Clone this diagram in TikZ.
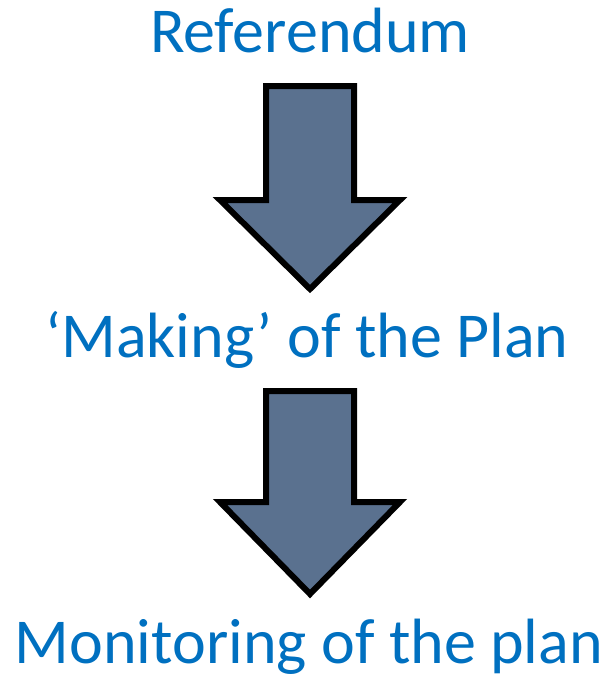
\documentclass[tikz,border=0pt]{standalone}
\usepackage{fontspec}
\setmainfont{Carlito}
\usetikzlibrary{calc}
\definecolor{planblue}{RGB}{0,112,192}
\definecolor{arrowslate}{RGB}{90,113,143}
\tikzset{stage/.style={text=planblue,font=\fontsize{64}{64}\selectfont,inner sep=0pt,anchor=base},
  blockarrow/.style={fill=arrowslate,draw=black,line width=6pt,line join=miter}}

\begin{document}
\begin{tikzpicture}[x=1pt,y=-1pt]
\useasboundingbox (0,0) rectangle (615,678);

% Place the stage labels
\node[stage] (ref) at (310,52) {Referendum};
\node[stage] (make) at (307,357) {`Making' of the Plan};
\node[stage] (mon) at (309,663) {Monitoring of the plan};

% First block arrow, Referendum to making
\coordinate (A1) at (310,86);
\draw[blockarrow] ($(A1)+(-44,0)$) -- ($(A1)+(44,0)$) -- ($(A1)+(44,114)$) -- ($(A1)+(90,114)$)
  -- ($(A1)+(0,203)$) -- ($(A1)+(-90,114)$) -- ($(A1)+(-44,114)$) -- cycle;

% Second block arrow, making to monitoring
\coordinate (A2) at (310,391);
\draw[blockarrow] ($(A2)+(-44,0)$) -- ($(A2)+(44,0)$) -- ($(A2)+(44,111)$) -- ($(A2)+(90,111)$)
  -- ($(A2)+(0,203)$) -- ($(A2)+(-90,111)$) -- ($(A2)+(-44,111)$) -- cycle;

\end{tikzpicture}
\end{document}
